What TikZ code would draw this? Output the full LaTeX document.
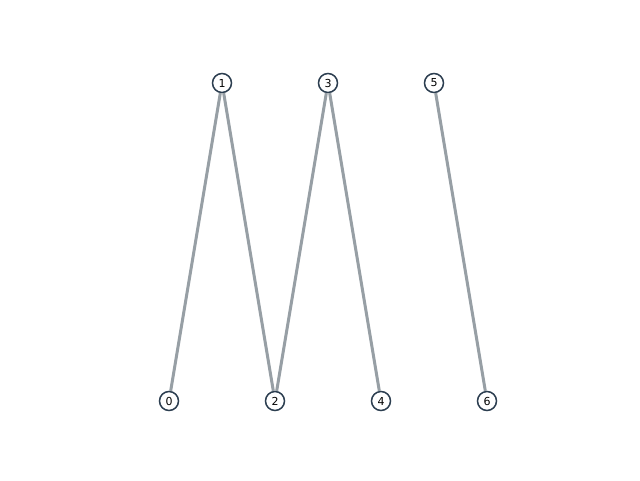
\documentclass[tikz,border=0pt]{standalone}
\usepackage{fontspec}
\setmainfont{DejaVu Sans}
\definecolor{nodeedge}{HTML}{2C3E50}
\definecolor{edgegray}{HTML}{979FA5}
\begin{document}
\begin{tikzpicture}[x=1pt,y=-1pt,
  vert/.style={circle,draw=nodeedge,line width=1.5pt,fill=white,minimum size=19pt,inner sep=0pt,font=\fontsize{11}{13}\selectfont},
  link/.style={draw=edgegray,line width=3pt}]
\useasboundingbox (0,0) rectangle (640,480);
\node[vert] (n0) at (169,401) {0};
\node[vert] (n1) at (222,83) {1};
\node[vert] (n2) at (275,401) {2};
\node[vert] (n3) at (328,83) {3};
\node[vert] (n4) at (381,401) {4};
\node[vert] (n5) at (434,83) {5};
\node[vert] (n6) at (487,401) {6};
\draw[link] (n0) -- (n1);
\draw[link] (n1) -- (n2);
\draw[link] (n2) -- (n3);
\draw[link] (n3) -- (n4);
\draw[link] (n5) -- (n6);
\end{tikzpicture}
\end{document}
